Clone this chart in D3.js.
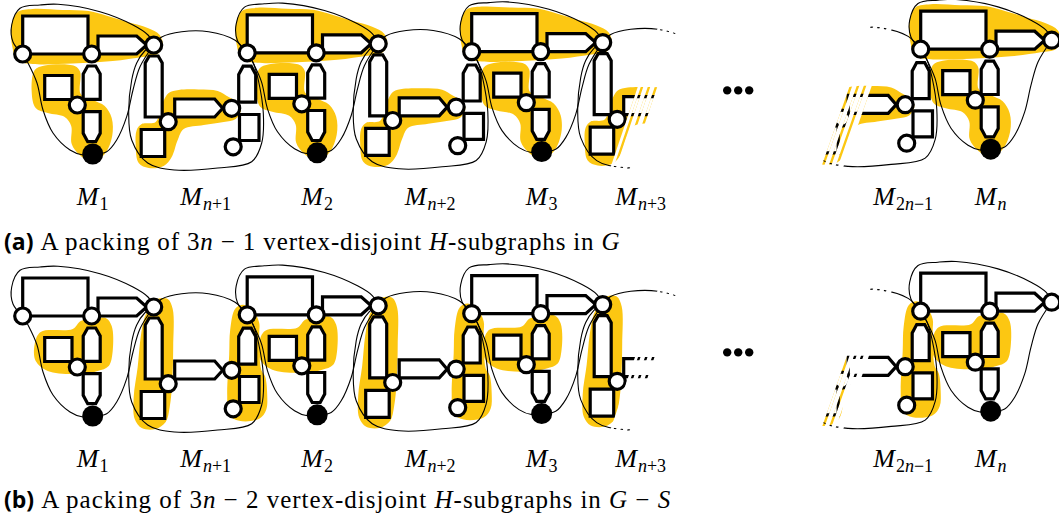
<!DOCTYPE html>
<html>
<head>
<meta charset="utf-8">
<script src="https://cdn.jsdelivr.net/npm/d3@7"></script>
<style>
  body { margin: 0; background: #fff; }
  svg { display: block; }
  .thick { fill: #fff; stroke: #000; stroke-width: 3.2; stroke-linejoin: miter; }
  .thin { fill: none; stroke: #000; stroke-width: 1.1; }
</style>
</head>
<body>
<svg id="fig" width="1059" height="523"></svg>
<script>
// ---- what the figure shows ----
const upperSlots = [0, 1, 2, 4];
const upperSubs = ['1', '2', '3', 'n'];
const lowerSlots = [0, 1, 2, 3];
const lowerSubs = ['n+1', 'n+2', 'n+3', '2n−1'];
const lowerKeep = ['all', 'all', 'left', 'right'];
const panelTags = ['(a)', '(b)'];
const panelTexts = ['A packing of 3$n$ − 1 vertex-disjoint $H$-subgraphs in $G$',
                    'A packing of 3$n$ − 2 vertex-disjoint $H$-subgraphs in $G$ − $S$'];
const upperMarked = [['top', 'low'], ['rbar']];
const lowerMarked = [['arrow'], ['cbar', 'qbar']];

const YELLOW = '#fcc712';

// ---- gadget geometry ----
// upper gadget, relative to its left vertex
const U = {
    shapes: [
        [[0, -38], [65.3, -38], [65.3, 0], [0, 0]],
        [[75.3, -18], [114, -18], [124, -9], [114, 0], [75.3, 0]],
        [[60.5, 20], [65, 12], [73, 12], [77.5, 20], [77.5, 45.3], [60.5, 45.3]],
        [[22, 21.5], [49.3, 21.5], [49.3, 45.5], [22, 45.5]],
        [[60.5, 57.7], [77.5, 57.7], [77.5, 79.3], [73, 87.7], [65, 87.7], [60.5, 79.3]]
    ],
    nodes: [[0, 0], [69, 0], [131, -9], [54.6, 51]],
    sink: [70, 100],
    curves: [
        [[0, 0], [-9.7, -12], [-11, -29], [-2.7, -45.7], [17.3, -49], [35.3, -49.7], [77.3, -42.3], [110.3, -29], [125.3, -19], [131, -9]],
        [[0, 0], [5.3, 9], [14.3, 29], [20.3, 56], [30.3, 79], [47.3, 96], [60.3, 101], [70, 100]],
        [[131, -9], [117.3, 12.7], [110.3, 36], [104, 62.7], [94, 86], [84, 97.7], [70, 100]]
    ],
    blobs: {
        top: [[-10.5, -8], [-11, -30], [-5, -42], [10, -45], [40, -44], [66, -43], [85, -38], [105, -32], [125, -26], [137, -19], [140, -9], [135, 0], [120, 3], [90, 7], [50, 9.5], [10, 10], [-5, 7]],
        low: [[12, 16], [22, 11.5], [52, 12], [57.5, 18], [58, 40], [70, 46], [82, 52], [89, 64], [89.5, 82], [82, 100], [69, 108], [57, 101], [49, 90], [48.5, 72], [42, 63], [25, 59], [13, 54], [9, 38]],
        rbar: [[12, 28], [18, 16], [50, 13], [58, 5], [70, 3], [83, 2], [89, 10], [90, 35], [86, 50], [75, 55], [55, 58], [25, 55], [13, 45]]
    }
};
// lower gadget, relative to the connecting vertex on its left
const D = {
    shapes: [
        [[-8.5, 18], [-4.5, 11], [4.5, 11], [8.5, 18], [8.5, 72], [-8.5, 72]],
        [[-12.5, 84.5], [11, 84.5], [11, 111.5], [-12.5, 111.5]],
        [[21, 54], [61, 54], [69, 63.3], [61, 72], [21, 72]],
        [[85, 29.5], [89.5, 21.2], [97.5, 21.2], [102, 29.5], [102, 57.2], [85, 57.2]],
        [[85.8, 69.5], [105.3, 69.5], [105.3, 95.5], [85.8, 95.5]]
    ],
    nodes: [[14.5, 76.7], [78, 63.3], [79.5, 101.8]],
    curves: [
        [[0, 0], [8, -8], [28, -13.3], [55, -13.3], [81, -5], [93.5, 7.8]],
        [[0, 0], [-9, 6], [-17, 18], [-22, 35], [-25, 68], [-22, 95], [-6, 118], [21, 125], [64, 123], [98, 116.7], [108, 98], [109.6, 68], [104.6, 35], [99.6, 18], [93.5, 7.8]]
    ],
    blobs: {
        arrow: [[-17, 85], [-12, 79], [2, 77], [8, 60], [15, 48], [25, 45], [45, 44.5], [64, 46], [75, 52], [85, 58], [87, 66], [82, 74], [70, 77], [50, 80], [30, 84], [24, 95], [18, 112], [10, 121], [-5, 123], [-15, 118], [-18, 100]],
        cbar: [[-9, 10], [-4, 1], [4, -8], [14, -8], [19, 2], [19.5, 40], [18.5, 75], [16, 100], [12, 115], [2, 122], [-12, 121], [-19, 112], [-20, 90], [-16, 60], [-13, 30]],
        qbar: [[81.5, 1.8], [89.5, -2.2], [99.5, 3.8], [105.5, 15.8], [105.5, 27.8], [107.5, 62.8], [111.5, 69.8], [113.5, 87.8], [112.5, 102.8], [105.5, 111.8], [85.5, 113.8], [75.5, 107.8], [73.5, 87.8], [75.5, 47.8], [76.5, 22.8]]
    }
};
// where a gadget is cut off, relative to its connecting vertex
const cuts = {
    left: { x0: 54.3, y0: -12.6, slope: -0.338, stripes: [3, 10, 17] },
    right: { x0: 64.5, y0: -12.4, slope: -0.351, stripes: [-8, -15, -22] }
};

const svg = d3.select('#fig');
const defs = svg.append('defs');
const slotX = d3.scaleLinear().domain([0, 4]).range([22.7, 920.7]);
const slotY = d3.scaleLinear().domain([0, 4]).range([54, 49.2]);
const panelY = d3.scaleLinear().domain([0, 1]).range([0, 262]);

const closed = d3.line().curve(d3.curveLinearClosed);
const smooth = d3.line().curve(d3.curveCatmullRom.alpha(0.5));
const blobLine = d3.line().curve(d3.curveCatmullRomClosed.alpha(0.5));

function drawUpper(g, layer, p) {
    if (layer === 'blob') {
        upperMarked[p].forEach(b => g.append('path').attr('d', blobLine(U.blobs[b])).attr('fill', YELLOW));
    }
    if (layer === 'curve') {
        U.curves.forEach(c => g.append('path').attr('class', 'thin').attr('d', smooth(c)));
    }
    if (layer === 'shape') {
        U.shapes.forEach(s => g.append('path').attr('class', 'thick').attr('d', closed(s)));
    }
    if (layer === 'node') {
        U.nodes.forEach(n => g.append('circle').attr('class', 'thick').attr('cx', n[0]).attr('cy', n[1]).attr('r', 8));
        g.append('circle').attr('cx', U.sink[0]).attr('cy', U.sink[1]).attr('r', 10.5).attr('fill', '#000');
    }
}
function drawLower(g, layer, p) {
    if (layer === 'blob') {
        lowerMarked[p].forEach(b => g.append('path').attr('d', blobLine(D.blobs[b])).attr('fill', YELLOW));
    }
    if (layer === 'curve') {
        D.curves.forEach(c => g.append('path').attr('class', 'thin').attr('d', smooth(c)));
    }
    if (layer === 'shape') {
        D.shapes.forEach(s => g.append('path').attr('class', 'thick').attr('d', closed(s)));
    }
    if (layer === 'node') {
        D.nodes.forEach(n => g.append('circle').attr('class', 'thick').attr('cx', n[0]).attr('cy', n[1]).attr('r', 8));
    }
}

function makeCut(id, cx, cy, keep) {
    const c = cuts[keep];
    const top = -80, bot = 160;
    const xAt = y => cx + c.x0 + c.slope * (y - c.y0);
    const Y = y => cy + y;
    const side = defs.append('clipPath').attr('id', id + '-side');
    const pts = keep === 'left'
        ? [[-50, Y(top)], [xAt(top), Y(top)], [xAt(bot), Y(bot)], [-50, Y(bot)]]
        : [[xAt(top), Y(top)], [1200, Y(top)], [1200, Y(bot)], [xAt(bot), Y(bot)]];
    side.append('path').attr('d', closed(pts));
    const str = defs.append('clipPath').attr('id', id + '-stripes');
    c.stripes.forEach(o => {
        const a = o, b = o + 2.5;
        str.append('path').attr('d', closed([[xAt(top) + a, Y(top)], [xAt(top) + b, Y(top)], [xAt(bot) + b, Y(bot)], [xAt(bot) + a, Y(bot)]]));
    });
}

function mathText(sel, str) {
    // $..$ parts are italic
    str.split('$').forEach((part, i) => {
        if (part.length) sel.append('tspan').attr('font-style', i % 2 ? 'italic' : 'normal').text(part);
    });
}
function subText(sel, str, size) {
    let first = true;
    str.match(/[a-z]+|[^a-z]+/g).forEach(part => {
        const t = sel.append('tspan').attr('font-size', size).attr('font-style', /[a-z]/.test(part) ? 'italic' : 'normal').text(part);
        if (first) { t.attr('dy', 5).attr('dx', 1); first = false; }
    });
}

const captionWidth = [580, 630];

[0, 1].forEach(p => {
    const py = panelY(p);
    const panel = svg.append('g').attr('class', 'panel');
    const layers = ['blob', 'curve', 'shape', 'node'].map(l => [l, panel.append('g')]);

    // cut definitions for partial lower gadgets
    lowerSlots.forEach((s, k) => {
        if (lowerKeep[k] === 'all') return;
        const cx = slotX(s) + 131, cy = slotY(s) - 9 + py;
        makeCut('cut-' + p + '-' + k, cx, cy, lowerKeep[k]);
    });

    layers.forEach(([layer, lg]) => {
        upperSlots.forEach(s => {
            const g = lg.append('g').attr('transform', `translate(${slotX(s)},${slotY(s) + py})`);
            drawUpper(g, layer, p);
        });
        lowerSlots.forEach((s, k) => {
            const tr = `translate(${slotX(s) + 131},${slotY(s) - 9 + py})`;
            if (lowerKeep[k] === 'all') {
                drawLower(lg.append('g').attr('transform', tr), layer, p);
            } else {
                ['side', 'stripes'].forEach(part => {
                    const outer = lg.append('g').attr('clip-path', `url(#cut-${p}-${k}-${part})`);
                    drawLower(outer.append('g').attr('transform', tr), layer, p);
                });
            }
        });
    });

    // ellipsis between the drawn gadgets
    const ex = slotX(3) + 42, ey = slotY(3) + 40 + py;
    panel.selectAll('circle.dot').data([-11, 0, 11]).join('circle')
        .attr('class', 'dot').attr('cx', d => ex + d).attr('cy', ey).attr('r', 4.2).attr('fill', '#000');

    // gadget labels
    const labels = panel.append('g').attr('font-family', '"Liberation Serif", serif').attr('font-size', 26);
    upperSlots.forEach((s, k) => {
        const t = labels.append('text').attr('x', slotX(s) + U.sink[0]).attr('y', 205 + py).attr('text-anchor', 'middle');
        t.append('tspan').attr('font-style', 'italic').text('M');
        subText(t, upperSubs[k], 18);
    });
    const lowerDx = [52, 52, 38, 76];
    lowerSlots.forEach((s, k) => {
        const t = labels.append('text').attr('x', slotX(s) + 131 + lowerDx[k]).attr('y', 205 + py).attr('text-anchor', 'middle');
        t.append('tspan').attr('font-style', 'italic').text('M');
        subText(t, lowerSubs[k], 18);
    });

    // caption
    const cap = panel.append('text').attr('x', 4).attr('y', 250 + py * 0.985).attr('font-size', 25);
    cap.append('tspan').attr('font-family', '"Open Sans", sans-serif').attr('font-weight', 700).attr('font-size', 23).text(panelTags[p]);
    const body = cap.append('tspan').attr('font-family', '"Liberation Serif", serif').attr('dx', 7);
    mathText(body, panelTexts[p]);
    const len = body.node().getComputedTextLength();
    const chars = panelTexts[p].replace(/\$/g, '').length;
    body.attr('letter-spacing', Math.max(0, (captionWidth[p] - len) / chars));
});
</script>
</body>
</html>
